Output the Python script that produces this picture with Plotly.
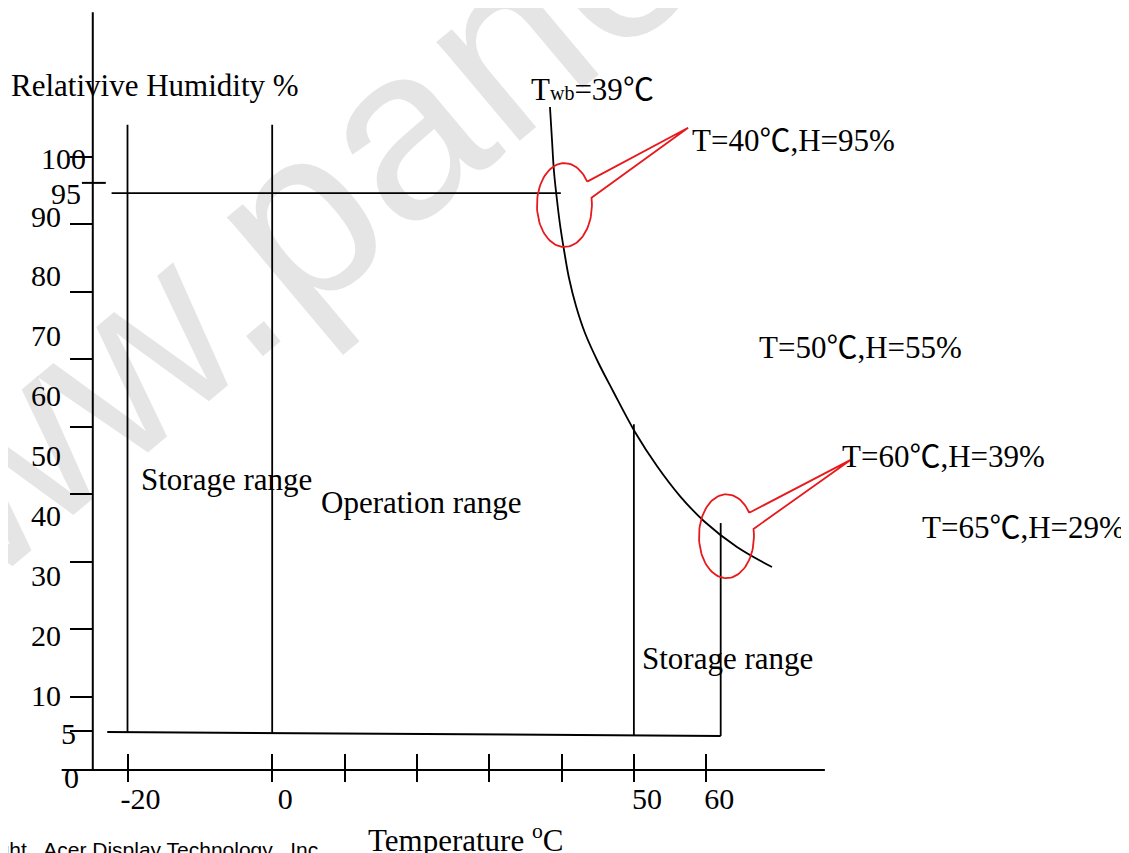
import numpy as np
import plotly.graph_objects as go

# ---------------- data (temperature in degC, relative humidity in %) ----------------
temp_ticks = [-20, 0, 10, 20, 30, 40, 50, 60]
temp_tick_labels = ["-20", "0", "", "", "", "", "50", "60"]

rh_label_vals = [10, 20, 30, 40, 50, 60, 70, 80, 90]
rh_label_text = ["10", "20", "30", "40", "50", "60", "70", "80", "90"]
# tick marks of the humidity axis (drawn on their own evenly spaced scale)
rh_tick_marks = [5, 10, 20, 30, 40, 50, 60, 70, 80, 90]

# wet-bulb temperature curve Twb = 39 degC
twb_curve_t = [38.40, 38.68, 38.96, 39.37, 39.78, 40.34, 41.03, 42.00, 43.24, 45.04,
               47.11, 50.15, 53.19, 56.37, 59.82, 64.25, 69.09]
twb_curve_rh = [109.37, 103.86, 98.51, 93.84, 89.83, 85.49, 80.81, 76.14, 71.63, 66.79,
                61.95, 55.10, 49.42, 44.41, 40.07, 35.90, 32.56]

# range boundaries
bound_t = [-20, 0, 50, 62]
bound_top_rh = [106.4, 106.4, 56.4, 39.9]
upper_limit_rh = 95
upper_limit_t = [-22.2, 39.9]
lower_limit_t = [-22.8, 62]
lower_limit_rh = [5.0, 4.35]

# axes (drawn as lines)
axis_t = -24.8
axis_rh = -1.35
axis_t_extent = [-29.1, 76.4]
axis_rh_extent = [-1.35, 125.2]

# red call-outs: circled point and pointer tip
callout_center_t = [40.4, 62.8]
callout_center_rh = [93.0, 37.7]
callout_tip_t = [57.5, 79.9]
callout_tip_rh = [105.9, 50.4]

# ---------------- figure ----------------
X_RANGE = [-36.52, 119.55]
Y_RANGE = [-16.53, 125.90]
Y2_RANGE = [-14.30, 112.07]
X_AXIS_POS = 0.10668
Y_AXIS_POS = 0.07529
SERIF = "Liberation Serif, Times New Roman, serif"
SANS = "Liberation Sans, Arial, sans-serif"
BLACK = "#000000"
RED = "#e8191c"
DEG = "<span style='font-family:Noto Sans CJK SC'>℃</span>"

fig = go.Figure()


def add_line(x, y, color=BLACK, width=1.8, shape="linear"):
    fig.add_trace(go.Scatter(x=x, y=y, mode="lines", hoverinfo="skip",
                             line=dict(color=color, width=width, shape=shape)))


# axis lines
add_line([axis_t, axis_t], axis_rh_extent, width=2)
add_line(axis_t_extent, [axis_rh, axis_rh], width=2)
# extra tick mark near 95
add_line([-26.3, -23.0], [96.7, 96.7], width=2)

# upper (95 %) and lower (5 %) limits
add_line(upper_limit_t, [upper_limit_rh, upper_limit_rh])
add_line(lower_limit_t, lower_limit_rh, width=2)

# vertical range boundaries
for t, top in zip(bound_t, bound_top_rh):
    bottom = float(np.interp(t, lower_limit_t, lower_limit_rh))
    add_line([t, t], [bottom, top])

# Twb curve
add_line(twb_curve_t, twb_curve_rh, shape="spline")

# call-outs
rx, ry = 3.8, 7.0
for cx, cy, ax, ay in zip(callout_center_t, callout_center_rh, callout_tip_t, callout_tip_rh):
    ang = np.radians(np.linspace(34, 370, 90))
    xs = list(cx + rx * np.cos(ang)) + [ax, cx + rx * np.cos(np.radians(34))]
    ys = list(cy + ry * np.sin(ang)) + [ay, cy + ry * np.sin(np.radians(34))]
    add_line(xs, ys, color=RED, width=1.8)

# dummy trace for the overlay axes
fig.add_trace(go.Scatter(x=[None], y=[None], xaxis="x2", yaxis="y2", showlegend=False))


def txt(text, x, y, size=31, xanchor="left", family=SERIF, **kw):
    fig.add_annotation(text=text, x=x, y=y, xref="x", yref="y", showarrow=False,
                       xanchor=xanchor, yanchor="middle",
                       font=dict(family=family, size=size, color=BLACK), **kw)


# watermark (light, semi-transparent so the drawing shows through)
fig.add_annotation(text="www.panelook.com", x=0.5268, y=1.0564, xref="paper", yref="paper",
                   showarrow=False, textangle=-40, xanchor="center", yanchor="middle",
                   font=dict(family=SANS, size=245, color="rgba(0,0,0,0.10)"))

txt("Relativive Humidity %", -36.37, 113.04)
txt("T<span style='font-size:20px'>wb</span>=39" + DEG, 35.51, 112.87)
txt("T=40" + DEG + ",H=95%", 57.77, 104.36)
txt("T=50" + DEG + ",H=55%", 67.03, 69.79)
txt("T=60" + DEG + ",H=39%", 78.50, 51.43)
txt("T=65" + DEG + ",H=29%", 89.60, 39.74)
txt("Storage range", -18.4, 47.09)
txt("Operation range", 6.49, 43.25)
txt("Storage range", 50.86, 17.20)
txt("Temperature <sup>o</sup>C", 12.98, -12.69)
txt("100", -25.4, 100.85, size=30, xanchor="right")
txt("95", -26.1, 95.0, size=30, xanchor="right")
txt("5", -26.8, 4.84, size=30, xanchor="right")
txt("0", -26.4, -2.67, size=30, xanchor="right")
txt("Copyright , Acer Display Technology , Inc", 6.6, -14.69, size=21, xanchor="right",
    family=SANS)

axis_font = dict(family=SERIF, size=30, color=BLACK)
fig.update_layout(
    width=1129, height=853,
    margin=dict(l=0, r=0, t=0, b=0),
    paper_bgcolor="white", plot_bgcolor="white",
    showlegend=False,
    xaxis=dict(range=X_RANGE, domain=[0, 1], anchor="free", position=X_AXIS_POS,
               showgrid=False, zeroline=False, showline=False,
               tickmode="array", tickvals=temp_ticks, ticktext=temp_tick_labels,
               ticks="outside", ticklen=11, tickwidth=2, tickcolor=BLACK,
               tickfont=axis_font, ticklabelshift=13, ticklabelstandoff=-9),
    xaxis2=dict(range=X_RANGE, overlaying="x", anchor="free", position=X_AXIS_POS,
                showgrid=False, zeroline=False, showline=False,
                tickmode="array", tickvals=temp_ticks, showticklabels=False,
                ticks="inside", ticklen=16, tickwidth=2, tickcolor=BLACK),
    yaxis=dict(range=Y_RANGE, domain=[0, 1], anchor="free", position=Y_AXIS_POS,
               showgrid=False, zeroline=False, showline=False,
               tickmode="array", tickvals=rh_label_vals, ticktext=rh_label_text,
               ticks="", tickfont=axis_font, ticklabelshift=-7, ticklabelstandoff=32),
    yaxis2=dict(range=Y2_RANGE, overlaying="y", anchor="free", position=Y_AXIS_POS,
                showgrid=False, zeroline=False, showline=False,
                tickmode="array", tickvals=rh_tick_marks, showticklabels=False,
                ticks="outside", ticklen=23, tickwidth=2, tickcolor=BLACK),
)

fig.write_html("out.html")
